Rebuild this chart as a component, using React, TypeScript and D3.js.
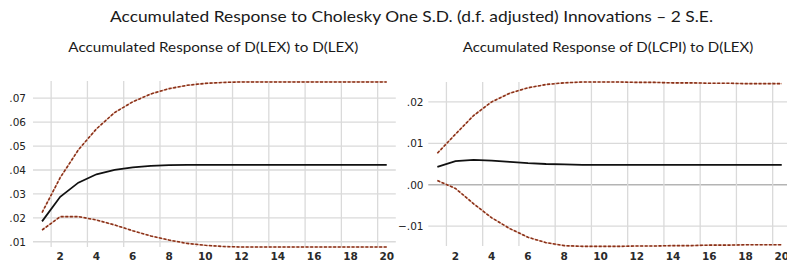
import { useEffect, useRef } from "react";
import * as d3 from "d3";

// periods 1..20
const periods = d3.range(1, 21);

// Accumulated response of D(LEX) to D(LEX)
const lexResp = [0.0185, 0.0288, 0.0347, 0.0382, 0.0400, 0.0411, 0.0417, 0.0420, 0.0421, 0.0421,
  0.0421, 0.0421, 0.0421, 0.0421, 0.0421, 0.0421, 0.0421, 0.0421, 0.0421, 0.0421];
const lexUpper = [0.0222, 0.0368, 0.0484, 0.0572, 0.0640, 0.0685, 0.0718, 0.0740, 0.0754, 0.0762,
  0.0766, 0.0768, 0.0768, 0.0768, 0.0768, 0.0768, 0.0768, 0.0768, 0.0768, 0.0768];
const lexLower = [0.0149, 0.0205, 0.0205, 0.0191, 0.0170, 0.0146, 0.0124, 0.0107, 0.0093, 0.0085,
  0.0080, 0.0078, 0.0078, 0.0078, 0.0078, 0.0078, 0.0078, 0.0078, 0.0078, 0.0078];

// Accumulated response of D(LCPI) to D(LEX)
const cpiResp = [0.0043, 0.0057, 0.0060, 0.0058, 0.0055, 0.0052, 0.0050, 0.0049, 0.0048, 0.0048,
  0.0048, 0.0048, 0.0048, 0.0048, 0.0048, 0.0048, 0.0048, 0.0048, 0.0048, 0.0048];
const cpiUpper = [0.0076, 0.0122, 0.0167, 0.0200, 0.0221, 0.0234, 0.0242, 0.0246, 0.0248, 0.0248,
  0.0248, 0.0247, 0.0247, 0.0246, 0.0246, 0.0245, 0.0245, 0.0244, 0.0244, 0.0244];
const cpiLower = [0.0010, -0.0009, -0.0046, -0.0080, -0.0106, -0.0127, -0.0140, -0.0147, -0.0149, -0.0149,
  -0.0149, -0.0148, -0.0148, -0.0147, -0.0147, -0.0146, -0.0146, -0.0145, -0.0145, -0.0145];

const xTicks = [2, 4, 6, 8, 10, 12, 14, 16, 18, 20];
const lexTicks = [0.01, 0.02, 0.03, 0.04, 0.05, 0.06, 0.07];
const cpiTicks = [-0.01, 0.0, 0.01, 0.02];

const mainTitle = "Accumulated Response to Cholesky One S.D. (d.f. adjusted) Innovations \u2013 2 S.E.";
const lexTitle = "Accumulated Response of D(LEX) to D(LEX)";
const cpiTitle = "Accumulated Response of D(LCPI) to D(LEX)";

const W = 787;
const H = 265;

const fmt = (v: number) => d3.format(".2f")(v).replace("0.", ".");

export default function App() {
  const ref = useRef<SVGSVGElement>(null);

  useEffect(() => {
    if (!ref.current) return;
    const svg = d3.select(ref.current);
    svg.selectAll("*").remove();

    svg.append("rect").attr("width", W).attr("height", H).attr("fill", "#fff");

    const titleFont = "Lato, 'Open Sans', sans-serif";

    svg.append("text")
      .attr("x", 411.5).attr("y", 22)
      .attr("text-anchor", "middle")
      .attr("font-family", titleFont)
      .attr("font-size", 15)
      .attr("fill", "#1a1a1a")
      .attr("textLength", 603)
      .attr("lengthAdjust", "spacingAndGlyphs")
      .text(mainTitle);

    const panels = [
      { title: lexTitle, titleX: 213.3, titleW: 290, x0: 33, x1: 395.8, y0: 81, y1: 247,
        dom: [0.0078, 0.0772], ticks: lexTicks, resp: lexResp, up: lexUpper, lo: lexLower, labelX: 26 },
      { title: cpiTitle, titleX: 608, titleW: 290.6, x0: 428.3, x1: 790.8, y0: 82, y1: 246,
        dom: [-0.0148, 0.0248], ticks: cpiTicks, resp: cpiResp, up: cpiUpper, lo: cpiLower, labelX: 423.5 },
    ];

    panels.forEach((p) => {
      const x = d3.scaleLinear().domain([0.5, 20.5]).range([p.x0, p.x1]);
      const y = d3.scaleLinear().domain(p.dom).range([p.y1, p.y0]);
      const g = svg.append("g");

      g.append("text")
        .attr("x", p.titleX).attr("y", 52)
        .attr("text-anchor", "middle")
        .attr("font-family", titleFont)
        .attr("font-size", 13.5)
        .attr("fill", "#1a1a1a")
        .attr("textLength", p.titleW)
        .attr("lengthAdjust", "spacingAndGlyphs")
        .text(p.title);

      // horizontal grid
      g.append("g").selectAll("line")
        .data(p.ticks)
        .join("line")
        .attr("x1", p.x0).attr("x2", p.x1)
        .attr("y1", (d) => y(d)).attr("y2", (d) => y(d))
        .attr("stroke", (d) => (d === 0 ? "#b4b4b4" : "#dadada"))
        .attr("stroke-width", (d) => (d === 0 ? 1.6 : 1.3));

      // vertical grid between periods
      g.append("g").selectAll("line")
        .data(xTicks)
        .join("line")
        .attr("x1", (d) => x(d - 0.5)).attr("x2", (d) => x(d - 0.5))
        .attr("y1", p.y0).attr("y2", p.y1)
        .attr("stroke", "#dadada")
        .attr("stroke-width", 1.3);

      // y labels
      g.append("g").selectAll("text")
        .data(p.ticks)
        .join("text")
        .attr("x", p.labelX).attr("y", (d) => y(d) + 4)
        .attr("text-anchor", "end")
        .attr("font-family", "'DejaVu Sans', sans-serif")
        .attr("font-size", 10.5)
        .attr("fill", "#222")
        .text((d) => fmt(d));

      // x labels
      g.append("g").selectAll("text")
        .data(xTicks)
        .join("text")
        .attr("x", (d) => x(d)).attr("y", 260)
        .attr("text-anchor", "middle")
        .attr("font-family", "'DejaVu Sans', sans-serif")
        .attr("font-size", 10.5)
        .attr("font-weight", "bold")
        .attr("fill", "#2a2a2a")
        .text((d) => d);

      const line = d3.line<number>()
        .x((_, i) => x(periods[i]))
        .y((d) => y(d));

      [p.up, p.lo].forEach((band) => {
        g.append("path")
          .attr("d", line(band))
          .attr("fill", "none")
          .attr("stroke", "#e0b4a2")
          .attr("stroke-width", 1.2);
        g.append("path")
          .attr("d", line(band))
          .attr("fill", "none")
          .attr("stroke", "#8a3119")
          .attr("stroke-width", 1.6)
          .attr("stroke-dasharray", "3 1.6");
      });

      g.append("path")
        .attr("d", line(p.resp))
        .attr("fill", "none")
        .attr("stroke", "#111")
        .attr("stroke-width", 1.8);
    });
  }, []);

  return (
    <svg
      ref={ref}
      width={W}
      height={H}
      style={{ position: "absolute", left: 0, top: 0, display: "block" }}
    />
  );
}
